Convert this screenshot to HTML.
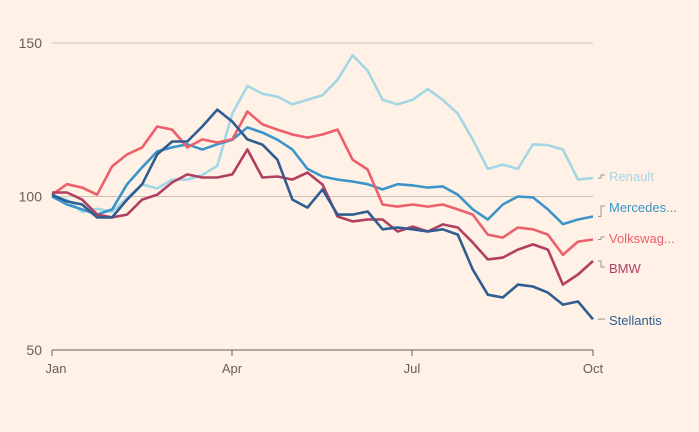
<!DOCTYPE html>
<html><head><meta charset="utf-8"><style>
body{margin:0;background:#fff1e5;}
svg{display:block;font-family:"Liberation Sans",sans-serif;}
</style></head><body>
<svg id="chart" width="699" height="432" viewBox="0 0 699 432">
<rect width="699" height="432" fill="#fff1e5"/>
<g id="grid"></g><g id="lines"></g><g id="labels"></g>
</svg>
<script>
const yTicks=[50,100,150];
const xTickLabels=["Jan","Apr","Jul","Oct"];
const xTickPos=[0,0.3327,0.6654,1];
const seriesNames=["Renault","Mercedes...","Volkswag...","BMW","Stellantis"];
const renault=[100,99,95,96,95,99.5,104,102.6,105.5,105.5,107,110,127,136,133.5,132.5,130,131.5,133,138,146,141,131.5,130,131.5,135,131.5,127,118.5,109,110.4,109,117,116.7,115.3,105.5,106];
const mercedes=[100,97.4,95.8,94.1,95.8,104,109.5,114.7,116,117,115.3,117,118.5,122.5,120.8,118.5,115.3,109,106.5,105.5,104.9,104,102.3,104,103.6,102.9,103.3,100.6,95.8,92.5,97.4,100,99.7,95.8,91,92.5,93.5];
const volkswagen=[100.6,104,102.9,100.6,109.8,113.7,116,122.8,121.8,116,118.6,117.6,118.6,127.7,123.5,121.8,120.2,119.2,120.2,121.8,112,108.8,97.4,96.7,97.4,96.7,97.4,95.8,94.1,87.6,86.6,89.9,89.3,87.6,81,85.3,86];
const bmw=[101.3,101.3,99,94.1,93.2,94.1,99,100.6,104.6,107.2,106.2,106.2,107.2,115.3,106.2,106.5,105.5,107.8,103.9,93.5,91.9,92.5,92.5,88.6,90.2,88.6,90.9,89.9,85,79.5,80.1,82.7,84.4,82.7,71.3,74.6,79];
const stellantis=[100.6,98.4,97.4,93.2,93.2,99,104,113.7,117.9,117.9,122.8,128.3,124.4,118.6,116.9,112,99,96.4,102.3,94.1,94.1,95.1,89.3,89.9,89.3,88.6,89.3,87.6,76.2,68,67.1,71.3,70.7,68.7,64.8,65.8,60];
const colors=["#a3d7e6","#3b95c9","#ec5f6b","#b13f62","#2f5d91"];
const labelY=[179,210,241,271,323];
const allSeries=[renault,mercedes,volkswagen,bmw,stellantis];
const X0=52,X1=593,Y50=350,Y150=43;
function xs(i,n){return X0+(X1-X0)*i/(n-1);}
function ys(v){return Y50-(v-50)*(Y50-Y150)/100;}
const NS="http://www.w3.org/2000/svg";
const grid=document.getElementById('grid'),lines=document.getElementById('lines'),labels=document.getElementById('labels');
yTicks.forEach(t=>{
  const l=document.createElementNS(NS,'line');
  
  
  l.setAttribute('x1',X0);l.setAttribute('x2',X1);l.setAttribute('y1',ys(t));l.setAttribute('y2',ys(t));
  l.setAttribute('stroke',t===50?'#66605c':'#ccc1b7');l.setAttribute('stroke-width',1);
  grid.appendChild(l);
  const tx=document.createElementNS(NS,'text');
  
  
  tx.setAttribute('x',42);tx.setAttribute('y',ys(t)+5);tx.setAttribute('text-anchor','end');
  tx.setAttribute('font-size','14');tx.setAttribute('fill','#66605c');tx.textContent=t;
  grid.appendChild(tx);
});
xTickLabels.forEach((lab,i)=>{
  const x=X0+(X1-X0)*xTickPos[i];
  const l=document.createElementNS(NS,'line');
  
  
  l.setAttribute('x1',x);l.setAttribute('x2',x);l.setAttribute('y1',350);l.setAttribute('y2',356);
  l.setAttribute('stroke','#66605c');grid.appendChild(l);
  const tx=document.createElementNS(NS,'text');
  
  
  tx.setAttribute('x',i===0?x+4:x);tx.setAttribute('y',373);tx.setAttribute('text-anchor','middle');
  tx.setAttribute('font-size','13');tx.setAttribute('fill','#66605c');tx.textContent=lab;
  grid.appendChild(tx);
});
allSeries.forEach((s,k)=>{
  const p=document.createElementNS(NS,'polyline');
  
  
  p.setAttribute('points',s.map((v,i)=>xs(i,s.length).toFixed(1)+','+ys(v).toFixed(1)).join(' '));
  p.setAttribute('fill','none');p.setAttribute('stroke',colors[k]);p.setAttribute('stroke-width',2.6);
  p.setAttribute('stroke-linejoin','round');
  lines.appendChild(p);
});
allSeries.forEach((s,k)=>{
  const ey=ys(s[s.length-1]);
  const c=document.createElementNS(NS,'path');
  
  
  c.setAttribute('d','M598 '+ey.toFixed(1)+' H601 V'+(labelY[k]-4)+' H605');
  c.setAttribute('fill','none');c.setAttribute('stroke','#999');c.setAttribute('stroke-width',1);
  labels.appendChild(c);
  const t=document.createElementNS(NS,'text');
  
  
  t.setAttribute('x',609);t.setAttribute('y',labelY[k]+2);
  t.setAttribute('font-size','13');t.setAttribute('fill',colors[k]);
  t.textContent=seriesNames[k];labels.appendChild(t);
});
</script>
</body></html>
